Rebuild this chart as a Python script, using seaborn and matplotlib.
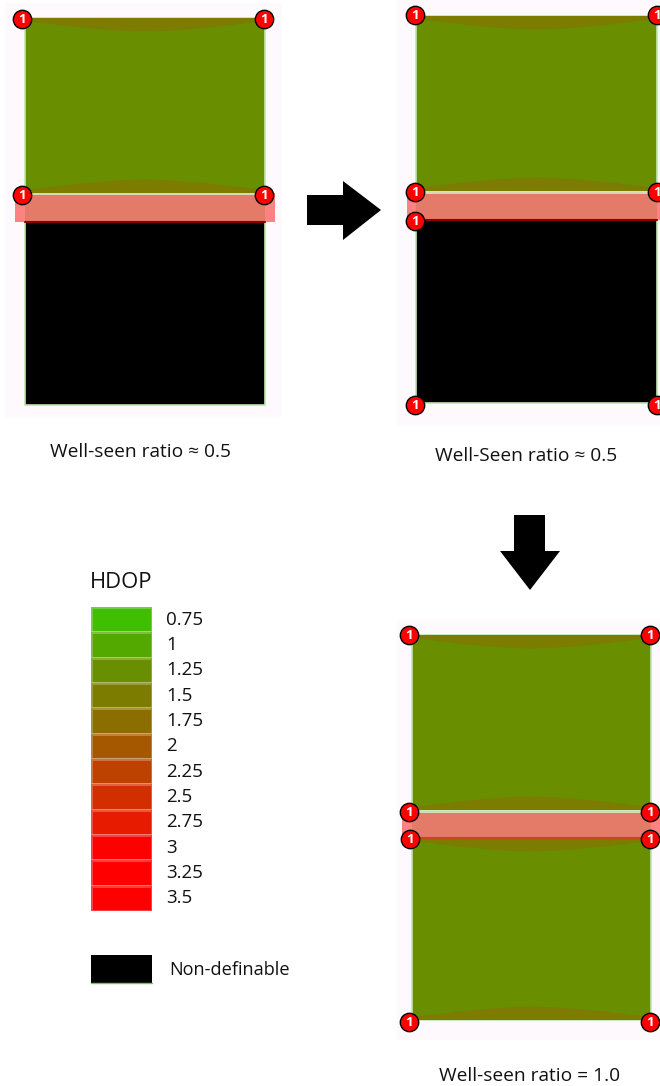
import numpy as np
import matplotlib
matplotlib.use("Agg")
import matplotlib.pyplot as plt
from matplotlib.colors import ListedColormap
from matplotlib.patches import Rectangle, Polygon
import seaborn as sns

sns.set_theme(style="white")
plt.rcParams["font.family"] = ["Open Sans", "DejaVu Sans"]

# HDOP classes and their colours
hdop_levels = [0.75, 1, 1.25, 1.5, 1.75, 2, 2.25, 2.5, 2.75, 3, 3.25, 3.5]
hdop_labels = ["0.75", "1", "1.25", "1.5", "1.75", "2", "2.25", "2.5", "2.75", "3", "3.25", "3.5"]
hdop_colors = ["#40bf00", "#53a900", "#698f00", "#7b7c00", "#8c6d00", "#a55800",
               "#bf4100", "#d32e00", "#e71b00", "#ff0000", "#ff0000", "#ff0000"]

nodata_label = "Non-definable"
panel_titles = ["Well-seen ratio \u2248 0.5", "Well-Seen ratio \u2248 0.5", "Well-seen ratio = 1.0"]

# HDOP class of each zone in the three maps (top block, bottom block); None = non-definable
zone_hdop = [(1.25, None), (1.25, None), (1.25, 1.25)]
edge_hdop = 1.5
# depth (px) of the weaker-geometry zone along block edges, sampled across the map width
edge_depth = [3, 5, 7, 9, 10.5, 12, 13, 13.5, 13, 12, 10.5, 9, 7, 5, 3]

# anchor positions (px) per map
anchors = [
    [(22, 19), (264, 19), (22, 195), (264, 195)],
    [(415, 15), (657, 15), (415, 192), (657, 192), (415, 221), (415, 405), (657, 405)],
    [(409, 635), (650, 635), (409, 812), (650, 812), (410, 839), (650, 839), (409, 1022), (650, 1022)],
]

W, H = 660, 1086
fig = plt.figure(figsize=(W / 100, H / 100), dpi=100)
ax = fig.add_axes([0, 0, 1, 1])
ax.set_xlim(0, W)
ax.set_ylim(H, 0)
ax.axis("off")

color_of = dict(zip(hdop_levels, hdop_colors))

# geometry of each map: background box, map x-range, top block, band, bottom block
maps = [
    dict(bg=(5, 3, 282, 417), x=(25, 265), top=(18, 193), band=(193, 222, 15, 275), bot=(222, 405),
         bandline="#8a0000", title=(140, 452)),
    dict(bg=(397, 0, 665, 425), x=(416, 657), top=(16, 191), band=(192, 220, 407, 668), bot=(220, 403),
         bandline="#8a0000", title=(526, 456)),
    dict(bg=(397, 620, 665, 1040), x=(412, 651), top=(635, 810), band=(811, 838, 402, 662), bot=(838, 1020),
         bandline="#c24a10", title=(530, 1076)),
]


def lens(x0, x1, y_edge, sign, color):
    xs = np.linspace(x0, x1, len(edge_depth))
    ys = y_edge + sign * np.array(edge_depth)
    pts = [(x0, y_edge)] + list(zip(xs, ys)) + [(x1, y_edge)]
    ax.add_patch(Polygon(pts, closed=True, facecolor=color, edgecolor="none", zorder=3))


for m, (top_val, bot_val), pts, title in zip(maps, zone_hdop, anchors, panel_titles):
    bx0, by0, bx1, by1 = m["bg"]
    ax.add_patch(Rectangle((bx0, by0), bx1 - bx0, by1 - by0, facecolor="#fdf9fc", edgecolor="none", zorder=1))
    x0, x1 = m["x"]
    for (ya, yb), val in [(m["top"], top_val), (m["bot"], bot_val)]:
        fc = color_of[val] if val is not None else "black"
        ax.add_patch(Rectangle((x0, ya), x1 - x0, yb - ya, facecolor=fc,
                               edgecolor="#bfe6b0", linewidth=1.2, zorder=2))
        if val is not None:
            lens(x0, x1, ya, 1, color_of[edge_hdop])
            lens(x0, x1, yb, -1, color_of[edge_hdop])
    # road band
    ya, yb, bx_a, bx_b = m["band"]
    ax.add_patch(Rectangle((bx_a, ya), bx_b - bx_a, yb - ya, facecolor="#ff8282", edgecolor="none", zorder=4))
    ax.add_patch(Rectangle((x0, ya), x1 - x0, yb - ya, facecolor="#e47a68", edgecolor="none", zorder=4))
    ax.plot([x0, x1], [ya + 0.5, ya + 0.5], color="#d6ecc4", lw=1.2, zorder=5)
    ax.plot([x0, x1], [yb - 0.5, yb - 0.5], color=m["bandline"], lw=1.5, zorder=5)
    # anchors
    px = [p[0] for p in pts]
    py = [p[1] for p in pts]
    ax.scatter(px, py, s=175, facecolor="#ff0000", edgecolor="black", linewidth=1.0, zorder=6)
    for x, y in pts:
        ax.text(x, y + 0.5, "1", color="white", fontsize=9.5, fontweight="bold",
                ha="center", va="center", zorder=7)
    ax.text(m["title"][0], m["title"][1], title, fontsize=13.8, ha="center", va="center", color="#111111")

# arrows between maps
ax.add_patch(Polygon([(307, 195), (343, 195), (343, 181), (381, 210), (343, 240), (343, 225), (307, 225)],
                     closed=True, facecolor="black", edgecolor="none"))
ax.add_patch(Polygon([(514, 515), (545, 515), (545, 551), (560, 551), (530, 590), (500, 551), (514, 551)],
                     closed=True, facecolor="black", edgecolor="none"))

# HDOP legend as a one-column heatmap
lx0, lx1, ly0, ly1 = 91, 152, 607, 911
lax = fig.add_axes([lx0 / W, 1 - ly1 / H, (lx1 - lx0) / W, (ly1 - ly0) / H])
sns.heatmap(np.arange(len(hdop_levels)).reshape(-1, 1), ax=lax, cmap=ListedColormap(hdop_colors),
            vmin=-0.5, vmax=len(hdop_levels) - 0.5, cbar=False,
            linewidths=0.8, linecolor=(1, 1, 1, 0.25), xticklabels=False, yticklabels=False)
lax.tick_params(left=False, bottom=False)

seg = (ly1 - ly0) / len(hdop_levels)
for i, lab in enumerate(hdop_labels):
    ax.text(166, ly0 + (i + 0.5) * seg, lab, fontsize=13.5, ha="left", va="center", color="#111111")
ax.text(90, 583, "HDOP", fontsize=15.8, ha="left", va="center", color="#111111")

ax.add_patch(Rectangle((91, 955), 61, 28, facecolor="black", edgecolor="none"))
ax.plot([91, 152], [983, 983], color="#7fbf5f", lw=1)
ax.text(169, 970, nodata_label, fontsize=13.1, ha="left", va="center", color="#111111")

fig.savefig("out.png", dpi=100, facecolor="white")
